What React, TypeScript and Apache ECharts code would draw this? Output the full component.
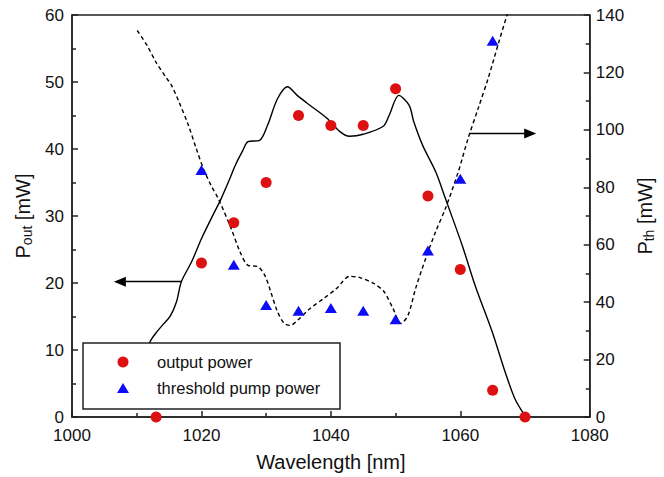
import React, { useEffect, useRef } from "react";
import * as echarts from "echarts";

// Measured data points
const outWl = [1013, 1020, 1025, 1030, 1035, 1040, 1045, 1050, 1055, 1060, 1065, 1070];
const outP = [0, 23, 29, 35, 45, 43.5, 43.5, 49, 33, 22, 4, 0];
const thWl = [1020, 1025, 1030, 1035, 1040, 1045, 1050, 1055, 1060, 1065];
const thP = [86, 53, 39, 37, 38, 37, 34, 58, 83, 131];

// Solid curve (output power, left axis)
const fitWl = [1011.3, 1012.15, 1013.1, 1014.15, 1015.2, 1016.15, 1016.9, 1018.5, 1020.0, 1021.5, 1023.05, 1024.4, 1025.2, 1026.3, 1027.2, 1029.0, 1030.2, 1031.75, 1033.3, 1034.8, 1036.8, 1039.4, 1041.4, 1042.9, 1045.0, 1048.1, 1049.0, 1050.5, 1052.1, 1052.8, 1054.2, 1056.2, 1057.7, 1060.3, 1062.3, 1064.9, 1066.9, 1068.4, 1069.9];
const fitP = [9.5, 11.4, 12.7, 13.9, 15.1, 17.2, 20.2, 23.2, 26.6, 29.6, 32.6, 35.6, 37.5, 39.6, 41.1, 41.3, 43.5, 47.5, 49.3, 48.0, 46.5, 44.6, 42.6, 41.9, 42.2, 43.4, 45.0, 48.0, 46.5, 44.1, 40.5, 36.6, 32.6, 25.6, 19.6, 12.8, 6.8, 2.8, 0.3];

// Dashed curve (threshold pump power, right axis)
const thCurveWl = [1010.08, 1011.6, 1013.1, 1014.65, 1015.4, 1016.5, 1018.0, 1019.2, 1020.3, 1021.5, 1022.6, 1024.6, 1025.95, 1027.2, 1028.7, 1029.8, 1030.7, 1031.75, 1032.8, 1033.7, 1034.8, 1036.8, 1038.9, 1040.9, 1042.9, 1044.4, 1046.6, 1048.2, 1049.6, 1050.8, 1051.9, 1053.1, 1054.65, 1056.2, 1057.7, 1059.7, 1061.2, 1062.75, 1064.3, 1065.8, 1067.2, 1067.6];
const thCurveP = [134.6, 129.4, 123.1, 117.9, 115.4, 109.9, 101.5, 93.5, 86.5, 80.6, 76.1, 65.6, 57.6, 52.8, 52.4, 49.3, 43.7, 36.7, 32.6, 31.9, 33.6, 37.8, 41.3, 44.8, 49.0, 48.6, 46.5, 43.7, 37.8, 32.6, 35.3, 44.8, 55.2, 64.6, 72.6, 85.5, 97.0, 107.4, 117.9, 129.4, 139.8, 142];

// Arrows [x0, y0, x1, y1]
const leftArrow = [1016.9, 20.2, 1007.4, 20.2];
const rightArrow = [1061.4, 98.7, 1070.8, 98.7];

const seriesNames = ["output power", "threshold pump power"];

const FONT = "'Liberation Sans', Arial, Helvetica, sans-serif";
const RED = "#dd1111";
const BLUE = "#0d0df5";

function zip(a: number[], b: number[]) {
  return a.map((v, i) => [v, b[i]]);
}

export default function App() {
  const ref = useRef<HTMLDivElement>(null);
  useEffect(() => {
    if (!ref.current) return;
    const chart = echarts.init(ref.current, undefined, { renderer: "svg" });
    const axisLine = { show: true, lineStyle: { color: "#222", width: 1.5 } };
    const axisLabel = { color: "#111", fontSize: 17, fontFamily: FONT, formatter: (v: number) => String(v) };
    const tick = { show: true, inside: true, length: 6, lineStyle: { color: "#222", width: 1.5 } };
    const minor = { show: true, splitNumber: 2, length: 4, lineStyle: { color: "#222", width: 1.5 } };
    const subRich = {
      p: { fontSize: 20, fontFamily: FONT, color: "#111" },
      s: { fontSize: 14, fontFamily: FONT, color: "#111", padding: [8, 0, 0, 0] },
    };
    chart.setOption({
      animation: false,
      backgroundColor: "#fff",
      textStyle: { fontFamily: FONT },
      grid: {
        left: 72,
        right: 67.5,
        top: 15,
        bottom: 58.4,
        show: true,
        borderColor: "#222",
        borderWidth: 1.5,
        backgroundColor: "transparent",
      },
      xAxis: {
        type: "value",
        min: 1000,
        max: 1080,
        interval: 20,
        name: "Wavelength [nm]",
        nameLocation: "middle",
        nameGap: 35,
        nameTextStyle: { fontSize: 20, color: "#111", fontFamily: FONT },
        axisLine,
        axisTick: tick,
        minorTick: minor,
        axisLabel: { ...axisLabel, margin: 10 },
        splitLine: { show: false },
      },
      yAxis: [
        {
          type: "value",
          min: 0,
          max: 60,
          interval: 10,
          position: "left",
          name: "{p|P}{s|out}{p| [mW]}",
          nameLocation: "middle",
          nameGap: 36,
          nameRotate: 90,
          nameTextStyle: { color: "#111", rich: subRich },
          axisLine,
          axisTick: tick,
          minorTick: minor,
          axisLabel: { ...axisLabel, margin: 8 },
          splitLine: { show: false },
        },
        {
          type: "value",
          min: 0,
          max: 140,
          interval: 20,
          position: "right",
          name: "{p|P}{s|th}{p| [mW]}",
          nameLocation: "middle",
          nameGap: 38,
          nameRotate: 90,
          nameTextStyle: { color: "#111", rich: subRich },
          axisLine,
          axisTick: tick,
          minorTick: minor,
          axisLabel: { ...axisLabel, margin: 6 },
          splitLine: { show: false },
        },
      ],
      graphic: [
        {
          type: "group",
          z: 8,
          children: [
            {
              type: "rect",
              z: 8,
              shape: { x: 83, y: 343, width: 257, height: 66 },
              style: { fill: "#fff", stroke: "#222", lineWidth: 1.5 },
            },
            {
              type: "circle",
              z: 9,
              shape: { cx: 123, cy: 362, r: 5.5 },
              style: { fill: RED },
            },
            {
              type: "polygon",
              z: 9,
              shape: { points: [[117, 393], [129, 393], [123, 383]] },
              style: { fill: BLUE },
            },
            {
              type: "text",
              z: 9,
              x: 157,
              y: 362,
              style: { text: seriesNames[0], fontSize: 16.5, fontFamily: FONT, fill: "#111", verticalAlign: "middle" },
            },
            {
              type: "text",
              z: 9,
              x: 157,
              y: 388,
              style: { text: seriesNames[1], fontSize: 16.5, fontFamily: FONT, fill: "#111", verticalAlign: "middle" },
            },
          ],
        },
      ],
      series: [
        {
          type: "line",
          yAxisIndex: 0,
          data: zip(fitWl, fitP),
          showSymbol: false,
          smooth: 0.3,
          lineStyle: { color: "#000", width: 1.4 },
          silent: true,
          z: 2,
          markLine: {
            silent: true,
            symbol: ["none", "triangle"],
            symbolSize: [10, 12],
            lineStyle: { color: "#000", width: 1.4, type: "solid" },
            label: { show: false },
            data: [[{ coord: [leftArrow[0], leftArrow[1]] }, { coord: [leftArrow[2], leftArrow[3]] }]],
          },
        },
        {
          type: "line",
          yAxisIndex: 1,
          data: zip(thCurveWl, thCurveP),
          showSymbol: false,
          smooth: 0.3,
          clip: true,
          lineStyle: { color: "#000", width: 1.4, type: [4, 3] },
          silent: true,
          z: 2,
          markLine: {
            silent: true,
            symbol: ["none", "triangle"],
            symbolSize: [10, 12],
            lineStyle: { color: "#000", width: 1.4, type: "solid" },
            label: { show: false },
            data: [[{ coord: [rightArrow[0], rightArrow[1]] }, { coord: [rightArrow[2], rightArrow[3]] }]],
          },
        },
        {
          name: seriesNames[0],
          type: "scatter",
          yAxisIndex: 0,
          data: zip(outWl, outP),
          symbol: "circle",
          symbolSize: 11,
          itemStyle: { color: RED, opacity: 1 },
          clip: false,
          z: 4,
        },
        {
          name: seriesNames[1],
          type: "scatter",
          yAxisIndex: 1,
          data: zip(thWl, thP),
          symbol: "triangle",
          symbolSize: [12, 10],
          itemStyle: { color: BLUE, opacity: 1 },
          clip: false,
          z: 4,
        },
      ],
    });
    return () => chart.dispose();
  }, []);
  return <div ref={ref} style={{ width: 664, height: 477, position: "absolute", left: 0, top: 0 }} />;
}
